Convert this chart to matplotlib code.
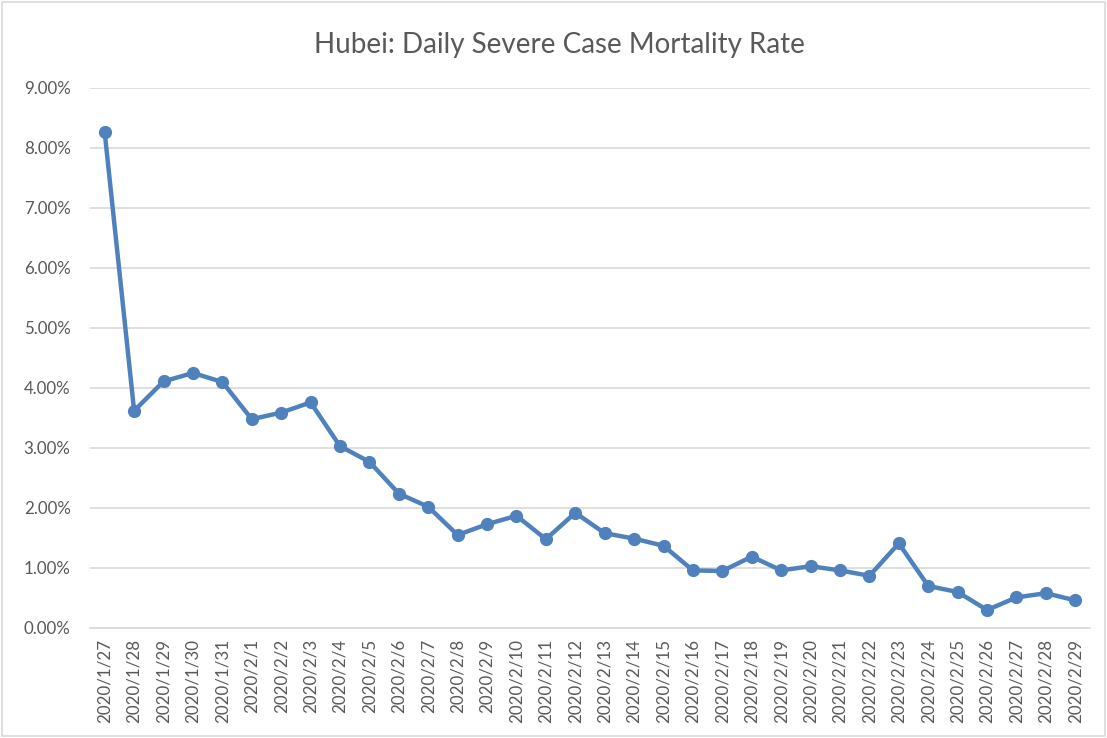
import matplotlib.pyplot as plt
from matplotlib.patches import Rectangle
from matplotlib.ticker import FuncFormatter

dates = ["2020/1/27", "2020/1/28", "2020/1/29", "2020/1/30", "2020/1/31",
         "2020/2/1", "2020/2/2", "2020/2/3", "2020/2/4", "2020/2/5", "2020/2/6",
         "2020/2/7", "2020/2/8", "2020/2/9", "2020/2/10", "2020/2/11", "2020/2/12",
         "2020/2/13", "2020/2/14", "2020/2/15", "2020/2/16", "2020/2/17",
         "2020/2/18", "2020/2/19", "2020/2/20", "2020/2/21", "2020/2/22",
         "2020/2/23", "2020/2/24", "2020/2/25", "2020/2/26", "2020/2/27",
         "2020/2/28", "2020/2/29"]
# mortality rate, percent
rate = [8.26, 3.62, 4.11, 4.25, 4.10, 3.48, 3.59, 3.76, 3.03, 2.77, 2.24,
        2.02, 1.55, 1.73, 1.87, 1.48, 1.92, 1.58, 1.49, 1.37, 0.96, 0.95,
        1.19, 0.96, 1.03, 0.96, 0.87, 1.41, 0.70, 0.60, 0.30, 0.51, 0.58, 0.46]

grey = "#595959"
plt.rcParams["font.family"] = ["Lato", "DejaVu Sans"]

fig = plt.figure(figsize=(11.07, 7.38), dpi=100)
W, H = 1107, 738
ax = fig.add_axes([90 / W, 1 - 628 / H, 1000 / W, 540 / H])

xs = list(range(len(dates)))
ax.plot(xs, [r / 100 for r in rate], color="#4F81BD", linewidth=3.2,
        marker="o", markersize=8.5, solid_capstyle="round",
        solid_joinstyle="round", zorder=3)

ax.set_xlim(-0.5, len(dates) - 0.5)
ax.set_ylim(0, 0.09)
ax.set_yticks([i / 100 for i in range(10)])
ax.yaxis.set_major_formatter(FuncFormatter(lambda v, p: f"{v * 100:.2f}%"))
ax.set_xticks(xs)
ax.set_xticklabels(dates, rotation=90)
ax.grid(axis="y", color="#D9D9D9", linewidth=1.2)
ax.set_axisbelow(True)
for s in ["top", "right", "left"]:
    ax.spines[s].set_visible(False)
ax.spines["bottom"].set_color("#D9D9D9")
ax.spines["bottom"].set_linewidth(1.2)
ax.tick_params(axis="both", length=0, colors=grey, labelsize=12.2)
ax.tick_params(axis="y", pad=14)
ax.tick_params(axis="x", pad=8)

fig.text(559 / W, 1 - 45 / H, "Hubei: Daily Severe Case Mortality Rate",
         ha="center", va="center", fontsize=20, color=grey)

fig.patches.append(Rectangle((2 / W, 2 / H), 1 - 4 / W, 1 - 4 / H,
                             transform=fig.transFigure, fill=False,
                             edgecolor="#D9D9D9", linewidth=1.2))

fig.savefig("out.png", dpi=100)
